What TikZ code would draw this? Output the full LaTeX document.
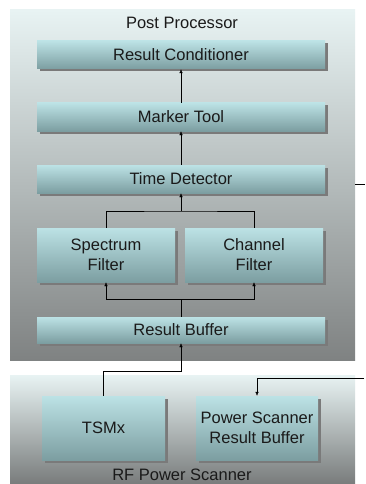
\documentclass[tikz,border=0pt]{standalone}
\usepackage{fontspec}
\setmainfont{Liberation Sans}
\usetikzlibrary{shadows,arrows.meta}

\definecolor{panelTop}{HTML}{E8F3F3}
\definecolor{panelBot}{HTML}{7F8282}
\definecolor{boxTop}{HTML}{BCE2E5}
\definecolor{boxBot}{HTML}{7C9EA1}
\definecolor{shadowGrey}{HTML}{7A7A7A}
\definecolor{ink}{HTML}{1A1A1A}

\begin{document}
\begin{tikzpicture}[x=1pt, y=-1pt,
	block/.style={top color=boxTop, bottom color=boxBot, inner sep=0pt, align=center, text=ink,
		font=\fontsize{16.5}{20}\selectfont,
		general shadow={fill=shadowGrey, shadow xshift=2.5pt, shadow yshift=-2.5pt}},
	title/.style={text=ink, font=\fontsize{16.5}{20}\selectfont, inner sep=1pt},
	link/.style={thin, black},
	feed/.style={thin, black, -{Latex[length=4pt,width=3.5pt]}}]
	\useasboundingbox[fill=white] (0,0) rectangle (365,484);
	\shade[top color=panelTop, bottom color=panelBot] (10,10) rectangle (355,360);
	\shade[top color=panelTop, bottom color=panelBot!105] (10,375) rectangle (355,484);
	\node[title] (pp) at (182,23) {Post Processor};
	\node[title] (rf) at (182,475) {RF Power Scanner};
	\foreach \nm/\x/\y/\w/\h/\txt in {rc/181/55/288/28/{Result Conditioner}, mt/181/117/288/28/{Marker Tool},
		td/181/179/288/28/{Time Detector}, sf/106/255/138/54/{Spectrum\\Filter}, cf/254/255/138/54/{Channel\\Filter},
		rb/181/330/288/26/{Result Buffer}, tsmx/103.5/428/123/64/{TSMx}, psrb/257/428/122/64/{Power Scanner\\Result Buffer}} {
		\node[block, minimum width=\w pt, minimum height=\h pt] (\nm) at (\x,\y) {\txt};
	}
	\coordinate (join) at (181,211);
	\coordinate (split) at (181,299);
	\coordinate (bend) at (181,371);
	\coordinate (tdlink) at (355,184);
	\coordinate (tdoff) at (365,184);
	\coordinate (psin) at (364,378);
	\draw[feed] (mt) -- (rc);
	\draw[feed] (td) -- (mt);
	\draw[link] (sf.north) |- (join) -| (cf.north);
	\draw[feed] (join) -- (td);
	\draw[link] (rb) -- (split);
	\draw[feed] (split) -| (sf.south);
	\draw[feed] (split) -| (cf.south);
	\draw[feed] (tsmx.north) |- (bend) -- (rb);
	\draw[link] (tdlink) -- (tdoff);
	\draw[feed] (psin) -| (psrb.north);
\end{tikzpicture}
\end{document}
